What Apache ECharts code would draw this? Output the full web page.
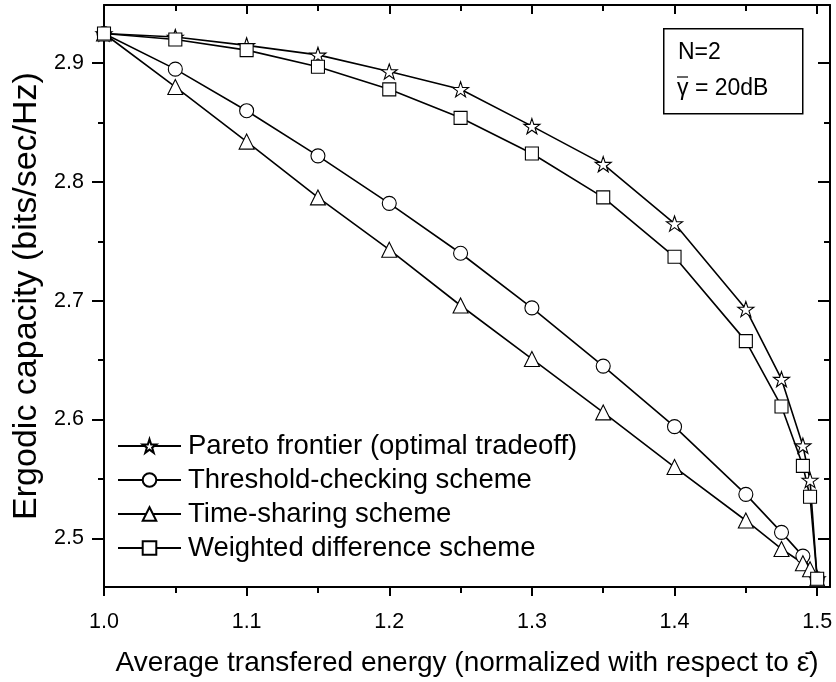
<!DOCTYPE html>
<html>
<head>
<meta charset="utf-8">
<script src="https://cdn.jsdelivr.net/npm/echarts@6/dist/echarts.min.js"></script>
<style>
  html, body { margin: 0; padding: 0; background: #fff; }
  #chart { width: 836px; height: 682px; }
</style>
</head>
<body>
<div id="chart"></div>
<script>
// Average transferred energy (normalized) sample points
var energyFull = [1.0, 1.05, 1.1, 1.15, 1.2, 1.25, 1.3, 1.35, 1.4, 1.45, 1.475, 1.49, 1.495, 1.5];
var energyThreshold = [1.0, 1.05, 1.1, 1.15, 1.2, 1.25, 1.3, 1.35, 1.4, 1.45, 1.475, 1.49, 1.5];

// Ergodic capacity (bits/sec/Hz) per scheme
var paretoCap    = [2.925, 2.922, 2.915, 2.907, 2.893, 2.878, 2.847, 2.815, 2.765, 2.693, 2.634, 2.578, 2.549, 2.466];
var thresholdCap = [2.925, 2.895, 2.860, 2.822, 2.782, 2.740, 2.694, 2.645, 2.594, 2.537, 2.505, 2.485, 2.466];
var timeShareCap = [2.925, 2.880, 2.834, 2.787, 2.743, 2.696, 2.651, 2.606, 2.560, 2.515, 2.491, 2.479, 2.474, 2.466];
var weightedCap  = [2.925, 2.920, 2.911, 2.897, 2.878, 2.854, 2.824, 2.787, 2.737, 2.666, 2.611, 2.561, 2.535, 2.466];

var seriesNames = [
  'Pareto frontier (optimal tradeoff)',
  'Threshold-checking scheme',
  'Time-sharing scheme',
  'Weighted difference scheme'
];

// Tick positions
var xMajor = [1.0, 1.1, 1.2, 1.3, 1.4, 1.5];
var xMinor = [1.05, 1.15, 1.25, 1.35, 1.45];
var yMajor = [2.5, 2.6, 2.7, 2.8, 2.9];
var yMinor = [2.55, 2.65, 2.75, 2.85, 2.95];

var X_MIN = 1.0, X_MAX = 1.509;
var Y_MIN = 2.459, Y_MAX = 2.949;

var FONT = '"Liberation Sans", Arial, sans-serif';
var STAR = 'path://M50,2 L61.8,37.6 L99,37.6 L69,59.6 L80.4,95 L50,73.2 L19.6,95 L31,59.6 L1,37.6 L38.2,37.6 Z';

function pairs(xs, ys) {
  return xs.map(function (x, i) { return [x, ys[i]]; });
}

function xAxisDef(pos, ticks, len, inside, withLine, withLabels) {
  return {
    type: 'value', position: pos, min: X_MIN, max: X_MAX, gridIndex: 0,
    axisLine: { show: withLine, onZero: false, lineStyle: { color: '#000', width: 2 } },
    axisTick: { show: true, customValues: ticks, length: len, inside: inside, lineStyle: { color: '#000', width: 2 } },
    axisLabel: withLabels ? {
      show: true, customValues: ticks, color: '#000', fontSize: 21.5, fontFamily: FONT, margin: 24,
      formatter: function (v) { return v.toFixed(1); }
    } : { show: false },
    splitLine: { show: false }
  };
}

function yAxisDef(pos, ticks, len, inside, withLine, withLabels) {
  return {
    type: 'value', position: pos, min: Y_MIN, max: Y_MAX, gridIndex: 0,
    axisLine: { show: withLine, onZero: false, lineStyle: { color: '#000', width: 2 } },
    axisTick: { show: true, customValues: ticks, length: len, inside: inside, lineStyle: { color: '#000', width: 2 } },
    axisLabel: withLabels ? {
      show: true, customValues: ticks, color: '#000', fontSize: 21.5, fontFamily: FONT, margin: 20,
      formatter: function (v) { return v.toFixed(1); }
    } : { show: false },
    splitLine: { show: false }
  };
}

var xAxes = [
  xAxisDef('bottom', xMajor, 9, false, true, true),
  xAxisDef('bottom', xMinor, 6, false, false, false),
  xAxisDef('top', xMajor, 9, true, true, false),
  xAxisDef('top', xMinor, 6, true, false, false)
];
xAxes[0].name = 'Average transfered energy (normalized with respect to \u03B5\u0304)';
xAxes[0].nameLocation = 'middle';
xAxes[0].nameGap = 62;
xAxes[0].nameTextStyle = { color: '#000', fontSize: 28, fontFamily: FONT };

var yAxes = [
  yAxisDef('left', yMajor, 12, false, true, true),
  yAxisDef('left', yMinor, 6, false, false, false),
  yAxisDef('right', yMajor, 12, true, true, false),
  yAxisDef('right', yMinor, 6, true, false, false)
];
yAxes[0].name = 'Ergodic capacity (bits/sec/Hz)';
yAxes[0].nameLocation = 'middle';
yAxes[0].nameGap = 59;
yAxes[0].nameTextStyle = { color: '#000', fontSize: 34, fontFamily: FONT };

function lineSeries(name, data, symbol, size) {
  return {
    name: name, type: 'line', data: data,
    xAxisIndex: 0, yAxisIndex: 0,
    symbol: symbol, symbolSize: size, symbolKeepAspect: true,
    showAllSymbol: true,
    color: '#000',
    lineStyle: { color: '#000', width: 1.6 },
    itemStyle: { color: '#fff', borderColor: '#000', borderWidth: 1.1 },
    emphasis: { disabled: true },
    animation: false
  };
}

var option = {
  backgroundColor: '#fff',
  animation: false,
  grid: { left: 104, right: 6, top: 5, bottom: 95, containLabel: false },
  xAxis: xAxes,
  yAxis: yAxes,
  legend: {
    orient: 'vertical', left: 112, top: 427,
    itemWidth: 63, itemHeight: 17, itemGap: 6,
    data: seriesNames,
    textStyle: { color: '#000', fontSize: 27.5, fontFamily: FONT, lineHeight: 28, padding: [0, 0, 0, 2] },
    selectedMode: false
  },
  series: [
    lineSeries(seriesNames[0], pairs(energyFull, paretoCap), STAR, 16),
    lineSeries(seriesNames[1], pairs(energyThreshold, thresholdCap), 'circle', 14),
    lineSeries(seriesNames[2], pairs(energyFull, timeShareCap), 'triangle', 15),
    lineSeries(seriesNames[3], pairs(energyFull, weightedCap), 'rect', 13)
  ],
  graphic: [
    { type: 'rect', left: 663, top: 28, shape: { width: 139, height: 85 },
      style: { fill: '#fff', stroke: '#000', lineWidth: 1.5 }, z: 10 },
    { type: 'text', left: 678, top: 41, z: 11,
      style: { text: 'N=2', fontSize: 23, fontFamily: FONT, fill: '#000' } },
    { type: 'text', left: 677, top: 77, z: 11,
      style: { text: '\u03B3 = 20dB', fontSize: 23, fontFamily: FONT, fill: '#000' } },
    // bar over the gamma
    { type: 'line', z: 11, shape: { x1: 677, y1: 77, x2: 688, y2: 77 },
      style: { stroke: '#000', lineWidth: 1.2 } }
  ]
};

var chart = echarts.init(document.getElementById('chart'), null, { renderer: 'canvas' });
chart.setOption(option);
</script>
</body>
</html>
